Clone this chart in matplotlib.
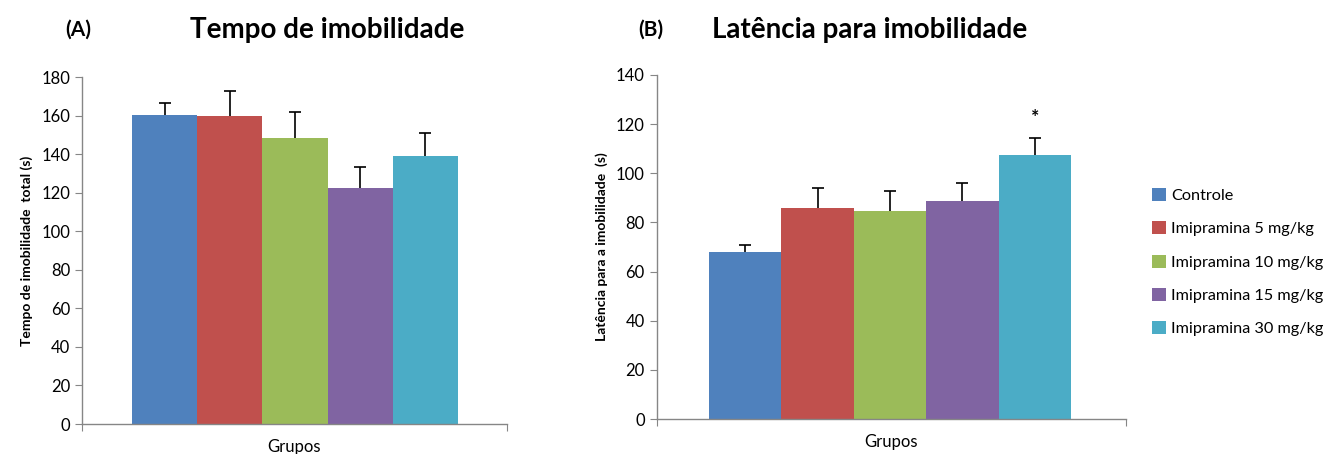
import numpy as np
import matplotlib.pyplot as plt
from matplotlib.patches import Patch

plt.rcParams['font.family'] = ['Lato', 'DejaVu Sans']

grupos = ["Controle", "Imipramina 5 mg/kg", "Imipramina 10 mg/kg",
          "Imipramina 15 mg/kg", "Imipramina 30 mg/kg"]
cores = ["#4F81BD", "#C0504D", "#9BBB59", "#8064A2", "#4BACC6"]

# (A) tempo de imobilidade total
tempo = [160.3, 159.6, 148.4, 122.4, 139.0]
tempo_err = [6.5, 13.0, 13.6, 11.1, 11.8]

# (B) latencia para imobilidade
latencia = [67.8, 85.9, 84.6, 88.7, 107.3]
latencia_err = [3.0, 8.2, 8.3, 7.5, 7.2]

fig = plt.figure(figsize=(13.4, 4.54), dpi=100)
axA = fig.add_axes([0.0612, 0.066, 0.317, 0.764])
axB = fig.add_axes([0.490, 0.077, 0.350, 0.758])


def painel(ax, vals, errs, ymax, step, xlim, ylabel):
    x = np.arange(len(vals))
    ax.bar(x, vals, width=1.0, color=cores, edgecolor='none', zorder=2)
    # so a barra de erro superior, como no Excel
    eb = ax.errorbar(x, vals, yerr=[np.zeros(len(errs)), errs], fmt='none',
                     ecolor='black', elinewidth=1.2, capsize=4, capthick=1.2, zorder=3)
    eb[1][0].set_visible(False)
    ax.set_xlim(*xlim)
    ax.set_ylim(0, ymax)
    ax.set_yticks(np.arange(0, ymax + 1, step))
    ax.set_xticks(list(xlim))
    ax.set_xticklabels(['', ''])
    for s in ['top', 'right']:
        ax.spines[s].set_visible(False)
    for s in ['left', 'bottom']:
        ax.spines[s].set_color('#868686')
        ax.spines[s].set_linewidth(1.0)
    ax.tick_params(axis='both', direction='out', length=5, color='#868686',
                   labelsize=12, labelcolor='black')
    ax.set_xlabel("Grupos", fontsize=12, labelpad=2)
    ax.set_ylabel(ylabel, fontsize=10, fontweight='bold', labelpad=6)


painel(axA, tempo, tempo_err, 180, 20, (-1.267, 5.25),
       "Tempo de imobilidade  total (s)")
painel(axB, latencia, latencia_err, 140, 20, (-1.225, 5.254),
       "Latência para a imobilidade  (s)")

axB.text(4, latencia[4] + latencia_err[4] + 8, "*", ha='center', va='center',
         fontsize=14, fontweight='bold')

fig.text(0.0485, 0.935, "(A)", fontsize=15, fontweight='bold', va='center')
fig.text(0.244, 0.935, "Tempo de imobilidade", fontsize=20, fontweight='bold',
         ha='center', va='center')
fig.text(0.476, 0.935, "(B)", fontsize=15, fontweight='bold', va='center')
fig.text(0.649, 0.935, "Latência para imobilidade", fontsize=20, fontweight='bold',
         ha='center', va='center')

handles = [Patch(facecolor=c, edgecolor='none') for c in cores]
fig.legend(handles, grupos, loc='upper left', bbox_to_anchor=(0.849, 0.618),
           frameon=False, fontsize=11.7, handlelength=0.85, handleheight=0.85,
           handletextpad=0.3, labelspacing=1.12)

fig.savefig("out.png", dpi=100)
